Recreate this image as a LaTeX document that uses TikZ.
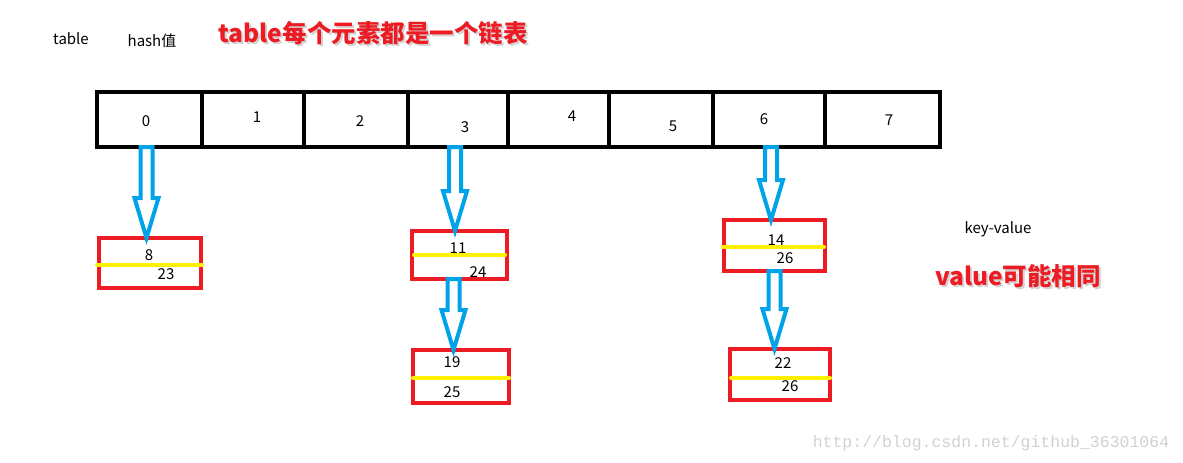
\documentclass[tikz,border=0pt]{standalone}
\usepackage{fontspec}
\setmainfont{Noto Sans CJK SC}
\newfontfamily\urlfont{Liberation Mono}
\usepackage{tikz}
\usetikzlibrary{calc}
\usetikzlibrary{positioning}
\definecolor{mblue}{RGB}{0, 162, 232}
\definecolor{mred}{RGB}{237, 28, 36}
\definecolor{myellow}{RGB}{255, 242, 0}
\tikzset{cellbox/.style = {draw, line width = 4.5, inner sep = 0, outer sep = 0, minimum height = 55}}
\tikzset{kvbox/.style = {draw = mred, line width = 4, inner sep = 0, outer sep = 0}}
\tikzset{numtext/.style = {inner sep = 0, font = \fontsize{15}{17}\selectfont}}
\tikzset{sep/.style = {myellow, line width = 4, line cap = round}}
\tikzset{hollow/.style = {mblue, line width = 4, line join = miter}}
\tikzset{redtitle/.style = {inner sep = 0, text = mred, font = \fontsize{24.5}{26}\selectfont\bfseries}}
\newcommand{\hollowarrow}[2]{
  \draw [hollow] let \p1 = (#1), \p2 = (#2) in
    (\x1 - 6, \y1) -- (\x1 + 6, \y1) -- (\x1 + 6, \y2 + 40) -- (\x1 + 12, \y2 + 40)
    -- (\x1, \y2) -- (\x1 - 12, \y2 + 40) -- (\x1 - 6, \y2 + 40) -- cycle;
}

\begin{document}
\begin{tikzpicture}[x=1pt, y=-1pt]
    \useasboundingbox (0, 0) rectangle (1183, 463);

    % headings
    \node [numtext] (tablehead) at (71, 39) {table};
    \node [numtext] (hashhead) at (152, 41) {hash值};
    \node [redtitle, text = gray, opacity = 0.35] (titleshadow) at (375, 35) {table每个元素都是一个链表};
    \node [redtitle] (title) at (373, 33) {table每个元素都是一个链表};

    % the table
    \foreach \i/\l/\r in {0/97/202, 1/202/304, 2/304/408, 3/408/508, 4/508/609, 5/609/713, 6/713/825, 7/825/940}{
      \node [cellbox, minimum width = \r - \l] (cell\i) at ({(\l + \r)/2}, 119.5) {};
    }
    \foreach \i/\x/\y in {0/146/121, 1/257/117, 2/360/121, 3/465/127, 4/572/116, 5/673/126, 6/764/119, 7/889/120}{
      \node [numtext] (lab\i) at (\x, \y) {\i};
    }

    % key-value boxes
    \node [kvbox, minimum width = 102, minimum height = 50] (boxA) at (150, 263) {};
    \node [kvbox, minimum width = 95, minimum height = 48] (boxB) at (459.5, 255) {};
    \node [kvbox, minimum width = 96, minimum height = 53] (boxC) at (461, 376.5) {};
    \node [kvbox, minimum width = 101, minimum height = 51] (boxD) at (774.5, 245.5) {};
    \node [kvbox, minimum width = 100, minimum height = 51] (boxE) at (780, 374.5) {};

    \draw [sep] (97, 265) -- (202, 265);
    \draw [sep] (414, 255) -- (505, 255);
    \draw [sep] (413, 378) -- (509, 378);
    \draw [sep] (723, 247) -- (824, 247);
    \draw [sep] (731, 378) -- (830, 378);

    \foreach \n/\x/\y/\t in {kA/149/255/8, vA/166/274/23, kB/458/248/11, vB/478/272/24, kC/452/362/19, vC/452/392/25,
                              kD/776/240/14, vD/785/258/26, kE/783/363/22, vE/790/386/26}{
      \node [numtext] (\n) at (\x, \y) {\t};
    }

    % arrows
    \hollowarrow{[xshift = -3]cell0.south}{[xshift = -3]cell0.south |- boxA.north}
    \hollowarrow{[xshift = -3]cell3.south}{[xshift = -3]cell3.south |- boxB.north}
    \hollowarrow{[xshift = -6]boxB.south}{[xshift = -6]boxB.south |- boxC.north}
    \hollowarrow{[xshift = 2]cell6.south}{[xshift = 2]cell6.south |- boxD.north}
    \hollowarrow{boxD.south}{boxD.south |- boxE.north}

    % notes
    \node [numtext] (kvnote) at (998, 229) {key-value};
    \node [redtitle, text = gray, opacity = 0.35] (sameshadow) at (1020, 278) {value可能相同};
    \node [redtitle] (samenote) at (1018, 276) {value可能相同};
    \node [inner sep = 0, text = black!18, font = \urlfont\fontsize{16.5}{18}\selectfont] (url) at (991, 443) {http://blog.csdn.net/github\_36301064};
  \end{tikzpicture}
\end{document}
